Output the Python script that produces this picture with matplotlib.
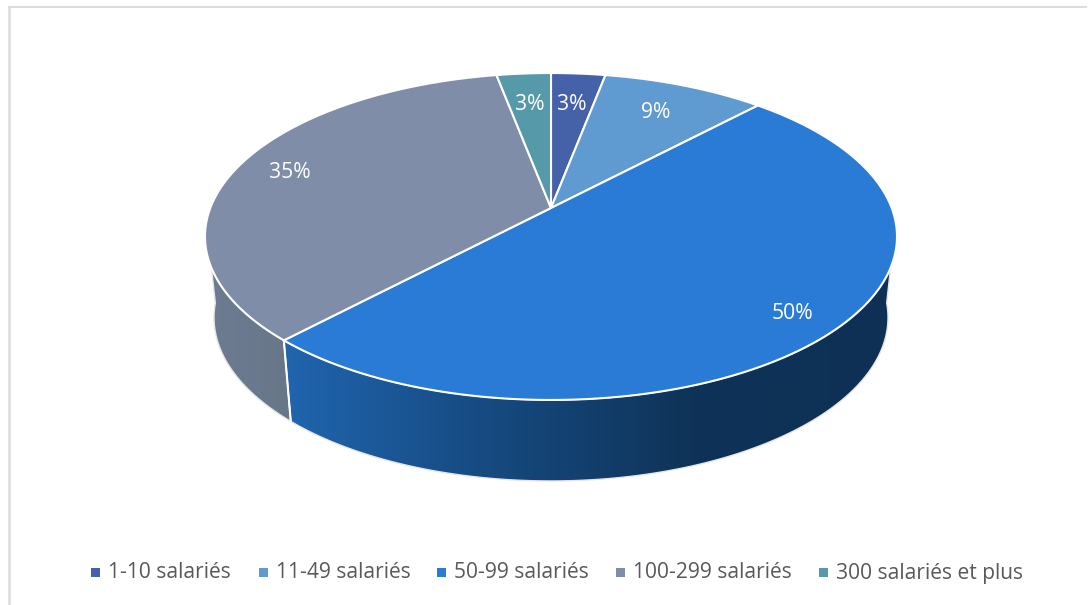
"""Perspective pie chart of companies by headcount band."""

import matplotlib

matplotlib.use("Agg")
import matplotlib.pyplot as plt
import numpy as np
from matplotlib.colors import LinearSegmentedColormap
from matplotlib.patches import Polygon, Rectangle

categories = ["1-10 salariés", "11-49 salariés", "50-99 salariés", "100-299 salariés", "300 salariés et plus"]
shares = [3, 9, 50, 35, 3]
share_labels = ["3%", "9%", "50%", "35%", "3%"]

colors = ["#4562a8", "#5f9ad0", "#2a7bd5", "#7f8da8", "#5699a8"]
label_radius = [0.74, 0.76, 0.87, 0.83, 0.74]
legend_x = [91, 259, 437, 616, 819]

# projection of the pie disc, in pixels
CX, APEX_Y = 551, 208
A, B, P = 340.7, 158.5, 0.1743
BOTTOM_Y, BOTTOM_SCALE = 289, 0.974
TEXT_GREY = "#595959"


def project(theta, r=1.0):
    """Map clockwise-from-top angle (degrees) and radius on the disc to pixels."""
    t = np.radians(theta)
    w = 1 + P * r * np.cos(t)
    return CX + A * r * np.sin(t) / w, APEX_Y - B * r * np.cos(t) / w


def project_bottom(theta):
    x, y = project(theta)
    return CX + BOTTOM_SCALE * (x - CX), BOTTOM_Y + (y - APEX_Y)


def side_polygon(t0, t1):
    ts = np.linspace(t0, t1, 200)
    tx, ty = project(ts)
    bx, by = project_bottom(ts[::-1])
    return np.column_stack([np.r_[tx, bx], np.r_[ty, by]])


def draw_side(ax, t0, t1, stops):
    poly = Polygon(side_polygon(t0, t1), closed=True, fc="none", ec="#e4e6ea", lw=1.0, zorder=2)
    ax.add_patch(poly)
    xy = poly.get_xy()
    cmap = LinearSegmentedColormap.from_list("side", stops)
    grad = np.linspace(0, 1, 256).reshape(1, -1)
    extent = [xy[:, 0].min(), xy[:, 0].max(), xy[:, 1].max(), xy[:, 1].min()]
    im = ax.imshow(grad, cmap=cmap, extent=extent, aspect="auto", zorder=1)
    im.set_clip_path(poly)


fig = plt.figure(figsize=(10.89, 6.05), dpi=100)
plt.rcParams["font.family"] = ["Open Sans", "DejaVu Sans"]
ax = fig.add_axes([0, 0, 1, 1])

# chart frame, only top and left survive the crop
ax.plot([9, 9], [7, 605], color="#dcdcdc", lw=1.8, zorder=0)
ax.plot([9, 1086], [7, 7], color="#dcdcdc", lw=1.5, zorder=0)

edges = np.cumsum([0] + shares) / sum(shares) * 360

# side walls, only the two slices facing the viewer show one
draw_side(ax, edges[3], 265, ["#6e7c93", "#687689"])
draw_side(ax, 95, edges[3], ["#2065ae", "#164a80", "#0f3358", "#0e3055"])

sx, sy = project(np.array([edges[3], edges[3]]))
bx, by = project_bottom(edges[3])
ax.plot([sx[0], bx], [sy[0], by], color="white", lw=1.5, zorder=3)

# top face
for i, color in enumerate(colors):
    ts = np.linspace(edges[i], edges[i + 1], 200)
    x, y = project(ts)
    pts = np.column_stack([np.r_[CX, x], np.r_[APEX_Y, y]])
    ax.add_patch(Polygon(pts, closed=True, fc=color, ec="white", lw=1.5, joinstyle="round", zorder=4))

for i, label in enumerate(share_labels):
    mid = (edges[i] + edges[i + 1]) / 2
    x, y = project(mid, label_radius[i])
    ax.text(x, y, label, color="white", fontsize=15.2, ha="center", va="center", zorder=5)

# legend
for x, color, name in zip(legend_x, colors, categories):
    ax.add_patch(Rectangle((x, 568), 9, 9, fc=color, ec="none"))
    ax.text(x + 17, 573, name, color=TEXT_GREY, fontsize=15.1, ha="left", va="center")

ax.set_xlim(0, 1089)
ax.set_ylim(605, 0)
ax.axis("off")
fig.savefig("out.png", dpi=100, facecolor="white")
plt.close(fig)
